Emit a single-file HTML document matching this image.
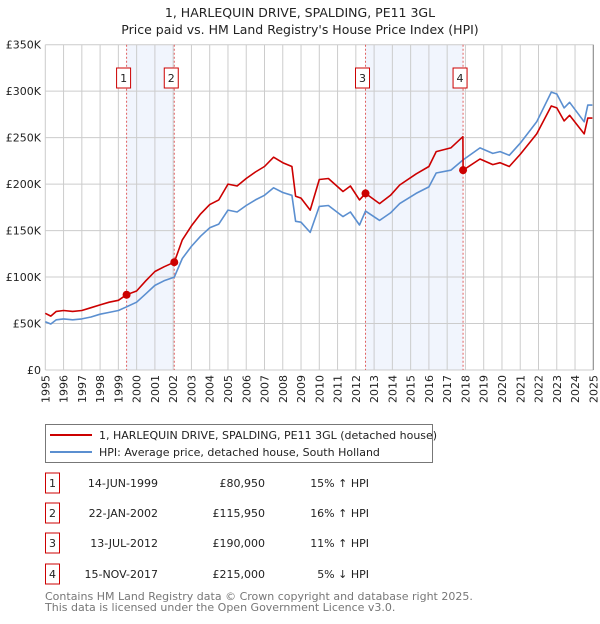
<!DOCTYPE html>
<html><head><meta charset="utf-8"><style>
body{margin:0;background:#fff;font-family:"DejaVu Sans","Liberation Sans",sans-serif;}
svg text{font-family:"DejaVu Sans","Liberation Sans",sans-serif;}
</style></head><body>
<svg id="c" width="600" height="620" xmlns="http://www.w3.org/2000/svg">
<text x="300" y="17" text-anchor="middle" font-size="12.5" fill="#222">1, HARLEQUIN DRIVE, SPALDING, PE11 3GL</text>
<text x="300" y="34" text-anchor="middle" font-size="12.5" fill="#222">Price paid vs. HM Land Registry's House Price Index (HPI)</text>
<g id="plot"></g>
<g font-size="11" fill="#222" text-anchor="end">
<text transform="translate(49.3,375) rotate(-90)">1995</text>
<text transform="translate(67.6,375) rotate(-90)">1996</text>
<text transform="translate(85.9,375) rotate(-90)">1997</text>
<text transform="translate(104.1,375) rotate(-90)">1998</text>
<text transform="translate(122.4,375) rotate(-90)">1999</text>
<text transform="translate(140.6,375) rotate(-90)">2000</text>
<text transform="translate(158.9,375) rotate(-90)">2001</text>
<text transform="translate(177.2,375) rotate(-90)">2002</text>
<text transform="translate(195.5,375) rotate(-90)">2003</text>
<text transform="translate(213.7,375) rotate(-90)">2004</text>
<text transform="translate(232,375) rotate(-90)">2005</text>
<text transform="translate(250.3,375) rotate(-90)">2006</text>
<text transform="translate(268.5,375) rotate(-90)">2007</text>
<text transform="translate(286.8,375) rotate(-90)">2008</text>
<text transform="translate(305.1,375) rotate(-90)">2009</text>
<text transform="translate(323.3,375) rotate(-90)">2010</text>
<text transform="translate(341.6,375) rotate(-90)">2011</text>
<text transform="translate(359.9,375) rotate(-90)">2012</text>
<text transform="translate(378.1,375) rotate(-90)">2013</text>
<text transform="translate(396.4,375) rotate(-90)">2014</text>
<text transform="translate(414.7,375) rotate(-90)">2015</text>
<text transform="translate(432.9,375) rotate(-90)">2016</text>
<text transform="translate(451.2,375) rotate(-90)">2017</text>
<text transform="translate(469.5,375) rotate(-90)">2018</text>
<text transform="translate(487.7,375) rotate(-90)">2019</text>
<text transform="translate(506,375) rotate(-90)">2020</text>
<text transform="translate(524.3,375) rotate(-90)">2021</text>
<text transform="translate(542.5,375) rotate(-90)">2022</text>
<text transform="translate(560.8,375) rotate(-90)">2023</text>
<text transform="translate(579.1,375) rotate(-90)">2024</text>
<text transform="translate(597.3,375) rotate(-90)">2025</text>
</g>
<rect x="45.5" y="424.5" width="387" height="38" fill="#fff" stroke="#777"/>
<line x1="50" y1="435" x2="92" y2="435" stroke="#cc0000" stroke-width="2"/>
<text x="99" y="439" font-size="11" fill="#222">1, HARLEQUIN DRIVE, SPALDING, PE11 3GL (detached house)</text>
<line x1="50" y1="452" x2="92" y2="452" stroke="#5b8fd0" stroke-width="2"/>
<text x="99" y="456" font-size="11" fill="#222">HPI: Average price, detached house, South Holland</text>
<g id="table" font-size="11" fill="#222"></g>
<text x="45" y="600" font-size="11" fill="#777">Contains HM Land Registry data © Crown copyright and database right 2025.</text>
<text x="45" y="611" font-size="11" fill="#777">This data is licensed under the Open Government Licence v3.0.</text>
</svg>
<script>
const hpiDates=[1995.0,1995.3,1995.6,1996.0,1996.5,1997.0,1997.5,1998.0,1998.5,1999.0,1999.45,2000.0,2000.5,2001.0,2001.5,2002.06,2002.5,2003.0,2003.5,2004.0,2004.5,2005.0,2005.5,2006.0,2006.5,2007.0,2007.5,2008.0,2008.5,2008.7,2009.0,2009.5,2010.0,2010.5,2011.3,2011.7,2012.2,2012.53,2013.3,2013.9,2014.4,2015.3,2016.0,2016.4,2017.2,2017.87,2018.8,2019.5,2019.9,2020.4,2021.0,2021.9,2022.7,2023.0,2023.4,2023.7,2024.5,2024.7,2024.95];
const hpiValues=[52,49.5,54,55,54,55,57,60,62,64,68,73,82,91,96,100,120,133,144,153,157,172,170,177,183,188,196,191,188,160,159,148,176,177,165,170,156,171,161,169,179,190,197,212,215,226,239,233,235,231,244,267,299,297,282,288,267,285,285];
const propDates=[1995.0,1995.3,1995.6,1996.0,1996.5,1997.0,1997.5,1998.0,1998.5,1999.0,1999.45,2000.0,2000.5,2001.0,2001.5,2002.06,2002.5,2003.0,2003.5,2004.0,2004.5,2005.0,2005.5,2006.0,2006.5,2007.0,2007.5,2008.0,2008.5,2008.7,2009.0,2009.5,2010.0,2010.5,2011.3,2011.7,2012.2,2012.53,2013.3,2013.9,2014.4,2015.3,2016.0,2016.4,2017.2,2017.86,2017.87,2018.8,2019.5,2019.9,2020.4,2021.0,2021.9,2022.7,2023.0,2023.4,2023.7,2024.5,2024.7,2024.95];
const propValues=[61,58,63,64,63,64,67,70,73,75,81,85,96,106,111,116,140,155,168,178,183,200,198,206,213,219,229,223,219,187,185,172,205,206,192,198,183,190,179,188,199,211,219,235,239,251,215,227,221,223,219,232,254,284,282,268,274,254,271,271];
const saleDates=[1999.45,2002.06,2012.53,2017.87];
const salePrices=[80.95,115.95,190,215];
const saleLabels=["1","2","3","4"];
const saleDateText=["14-JUN-1999","22-JAN-2002","13-JUL-2012","15-NOV-2017"];
const salePriceText=["£80,950","£115,950","£190,000","£215,000"];
const saleHpiText=["15% ↑ HPI","16% ↑ HPI","11% ↑ HPI","5% ↓ HPI"];
const yTicks=[0,50,100,150,200,250,300,350];
const yTickLabels=["£0","£50K","£100K","£150K","£200K","£250K","£300K","£350K"];
const xTicks=[1995,1996,1997,1998,1999,2000,2001,2002,2003,2004,2005,2006,2007,2008,2009,2010,2011,2012,2013,2014,2015,2016,2017,2018,2019,2020,2021,2022,2023,2024,2025];

const X0=45.3,X1=593.3,Y0=370,Y1=44.7;
const xs=d=>X0+(d-1995)/30*(X1-X0);
const ys=v=>Y0-v/350*(Y0-Y1);
const NS="http://www.w3.org/2000/svg";
const plot=document.getElementById('plot');
function mk(tag,attrs,parent,txt){const e=document.createElementNS(NS,tag);for(const k in attrs)e.setAttribute(k,attrs[k]);if(txt!==undefined)e.textContent=txt;(parent||plot).appendChild(e);return e;}

for(let i=0;i<saleDates.length;i+=2){
 const r=mk('rect',{x:xs(saleDates[i]),y:Y1,width:xs(saleDates[i+1])-xs(saleDates[i]),height:Y0-Y1,fill:'#eef3fd',opacity:0.8});
 
 
}
xTicks.forEach(t=>{const l=mk('line',{x1:xs(t),x2:xs(t),y1:Y1,y2:Y0,stroke:'#ccc','stroke-width':1});
 
 
});
yTicks.forEach((t,i)=>{const l=mk('line',{x1:X0,x2:X1,y1:ys(t),y2:ys(t),stroke:'#ccc','stroke-width':1});
 
 
 const tx=mk('text',{x:41,y:ys(t)+4,'font-size':11,fill:'#222','text-anchor':'end'},plot,yTickLabels[i]);
 
 
});
saleDates.forEach((d,i)=>{
 const l=mk('line',{x1:xs(d),x2:xs(d),y1:Y1,y2:Y0,stroke:'#e06060','stroke-width':1,'stroke-dasharray':'2,2'});
 
 
 const cx=xs(d)-3;
 const b=mk('rect',{x:cx-7,y:68,width:14,height:20,fill:'#fff',stroke:'#cc0000','stroke-width':1});
 
 
 const t=mk('text',{x:cx,y:82,'font-size':11,fill:'#222','text-anchor':'middle'},plot,saleLabels[i]);
 
 
});
function line(dates,vals,color,name){
 const p=mk('polyline',{points:dates.map((d,i)=>xs(d).toFixed(1)+','+ys(vals[i]).toFixed(1)).join(' '),fill:'none',stroke:color,'stroke-width':1.6,'stroke-linejoin':'round'});
 
 
}
line(hpiDates,hpiValues,'#5b8fd0','hpi-line');
line(propDates,propValues,'#cc0000','property-price-line');
saleDates.forEach((d,i)=>{const c=mk('circle',{cx:xs(d),cy:ys(salePrices[i]),r:4,fill:'#cc0000'});
 
 
});
mk('line',{x1:X1,x2:X1,y1:Y1,y2:Y0,stroke:'#888'});
const tb=document.getElementById('table');
const rowY=[483,513,543,574];
saleLabels.forEach((s,i)=>{
 const y=rowY[i];
 const b=mk('rect',{x:45.5,y:y-10,width:14,height:20,fill:'#fff',stroke:'#cc0000'},tb);
 
 
 const a=mk('text',{x:52.5,y:y+4,'text-anchor':'middle'},tb,s);
 
 
 const d=mk('text',{x:158,y:y+4,'text-anchor':'end'},tb,saleDateText[i]);
 
 
 const p=mk('text',{x:265,y:y+4,'text-anchor':'end'},tb,salePriceText[i]);
 
 
 const h=mk('text',{x:369,y:y+4,'text-anchor':'end'},tb,saleHpiText[i]);
 
 
});
</script>
</body></html>
